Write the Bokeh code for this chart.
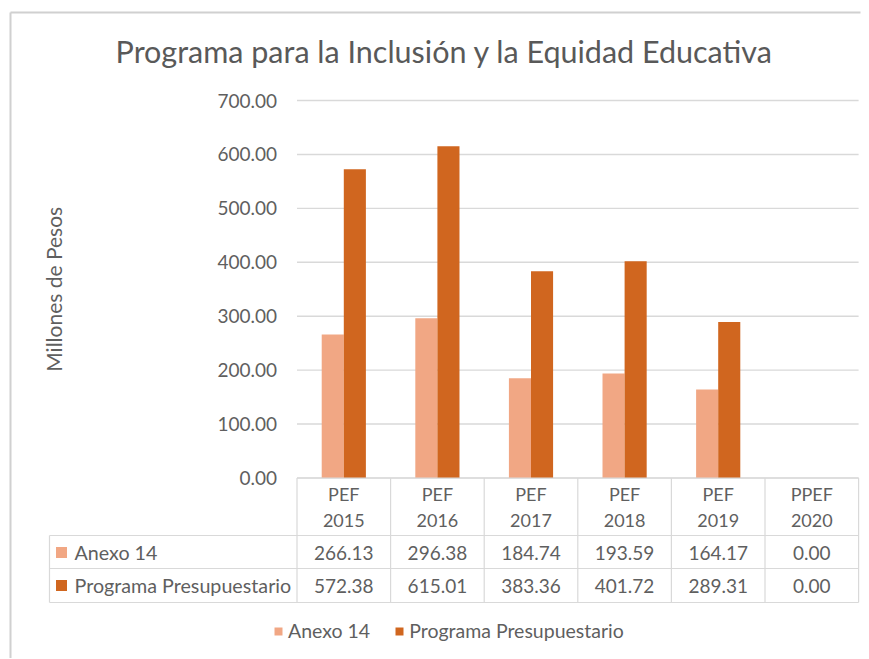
import numpy as np
from bokeh.plotting import figure
from bokeh.models import ColumnDataSource, Range1d, Legend, LegendItem
from bokeh.core.properties import value
from bokeh.embed import file_html
from bokeh.resources import INLINE

# ---------------- data ----------------
title_text = "Programa para la Inclusión y la Equidad Educativa"
y_label = "Millones de Pesos"
cat_top = ["PEF", "PEF", "PEF", "PEF", "PEF", "PPEF"]
cat_year = ["2015", "2016", "2017", "2018", "2019", "2020"]
series_names = ["Anexo 14", "Programa Presupuestario"]
anexo14 = [266.13, 296.38, 184.74, 193.59, 164.17, 0.00]
programa = [572.38, 615.01, 383.36, 401.72, 289.31, 0.00]
y_ticks = [0, 100, 200, 300, 400, 500, 600, 700]
colors = ["#F1A784", "#D0661F"]

# ---------------- layout helpers (figure pixels -> data) ----------------
W, H = 868, 658
PX0 = 296.5              # figure px where x = 0 (left edge of first category)
UX = 93.6                # px per category
PY0 = 477.5              # figure px (from top) where y = 0
UY = 377.5 / 700.0       # px per value unit


def fx(px):
    return (px - PX0) / UX


def fy(py):
    return (PY0 - py) / UY


FONT_NAME = "Lato"
FONT = value(FONT_NAME)
TXT = "#5f5f5f"
GRID = "#d9d9d9"

p = figure(width=W, height=H,
           x_range=Range1d(fx(0), fx(W)), y_range=Range1d(fy(H), fy(0)),
           x_axis_type=None, y_axis_type=None,
           toolbar_location=None, output_backend="svg",
           min_border=0, outline_line_color=None)

n = len(cat_year)
centers = np.arange(n) + 0.5
bw = 0.236

# gridlines over the category area
p.segment(x0=[0] * len(y_ticks), x1=[n] * len(y_ticks), y0=y_ticks, y1=y_ticks,
          line_color=GRID, line_width=1.4)

# bars
src = ColumnDataSource(dict(x=centers, xa=centers - bw / 2, xp=centers + bw / 2,
                            anexo=anexo14, prog=programa))
r1 = p.vbar(x="xa", top="anexo", bottom=0, width=bw, source=src,
            fill_color=colors[0], line_color=None)
r2 = p.vbar(x="xp", top="prog", bottom=0, width=bw, source=src,
            fill_color=colors[1], line_color=None)

# tick labels
p.text(x=[0] * len(y_ticks), y=y_ticks, text=[f"{t:.2f}" for t in y_ticks],
       x_offset=-20, text_align="right", text_baseline="middle",
       text_font=FONT, text_font_size="19px", text_color=TXT)

# y axis title
p.text(x=[fx(53)], y=[350], text=[y_label], angle=np.pi / 2,
       text_align="center", text_baseline="middle",
       text_font=FONT, text_font_size="21px", text_color=TXT)

# chart title
p.text(x=[fx(444)], y=[fy(50)], text=[title_text],
       text_align="center", text_baseline="middle",
       text_font=FONT, text_font_size="30.5px", text_color="#595959")

# ---------------- data table ----------------
row_lines = [fy(535), fy(568), fy(602)]
x_left = fx(49)
# header top
p.segment(x0=[0], x1=[n], y0=[0], y1=[0], line_color=GRID, line_width=1.2)
# row lines
p.segment(x0=[x_left] * 3, x1=[n] * 3, y0=row_lines, y1=row_lines,
          line_color=GRID, line_width=1.2)
# vertical lines
p.segment(x0=list(range(n + 1)), x1=list(range(n + 1)),
          y0=[0] * (n + 1), y1=[row_lines[-1]] * (n + 1),
          line_color=GRID, line_width=1.2)
p.segment(x0=[x_left], x1=[x_left], y0=[row_lines[0]], y1=[row_lines[-1]],
          line_color=GRID, line_width=1.2)

# header labels
p.text(x=centers, y=[fy(493)] * n, text=cat_top,
       text_align="center", text_baseline="middle",
       text_font=FONT, text_font_size="18px", text_color=TXT)
p.text(x=centers, y=[fy(520)] * n, text=cat_year,
       text_align="center", text_baseline="middle",
       text_font=FONT, text_font_size="18px", text_color=TXT)

# value rows
row_y = [fy(552), fy(585)]
for vals, ry in zip([anexo14, programa], row_y):
    p.text(x=centers, y=[ry] * n, text=[f"{v:.2f}" for v in vals],
           text_align="center", text_baseline="middle",
           text_font=FONT, text_font_size="19px", text_color=TXT)

# row labels with colour keys
p.scatter(x=[fx(61)] * 2, y=row_y, marker="square", size=11,
          fill_color=colors, line_color=None)
p.text(x=[fx(74)] * 2, y=row_y, text=series_names,
       text_align="left", text_baseline="middle",
       text_font=FONT, text_font_size="19.7px", text_color=TXT)

# outer chart border (left and top)
p.segment(x0=[fx(10), fx(10)], x1=[fx(10), fx(860)],
          y0=[fy(12), fy(12)], y1=[fy(H), fy(12)],
          line_color="#d0d0d0", line_width=2)

# legend
legend = Legend(items=[LegendItem(label=series_names[0], renderers=[r1]),
                       LegendItem(label=series_names[1], renderers=[r2])],
                location=(273, 16), orientation="horizontal",
                padding=0, margin=0, spacing=24,
                glyph_width=10, glyph_height=10, label_height=10,
                label_standoff=5,
                label_text_font=FONT_NAME, label_text_font_size="19.5px",
                label_text_color=TXT,
                border_line_color=None, background_fill_alpha=0)
p.add_layout(legend)

open("out.html", "w").write(file_html(p, INLINE))
